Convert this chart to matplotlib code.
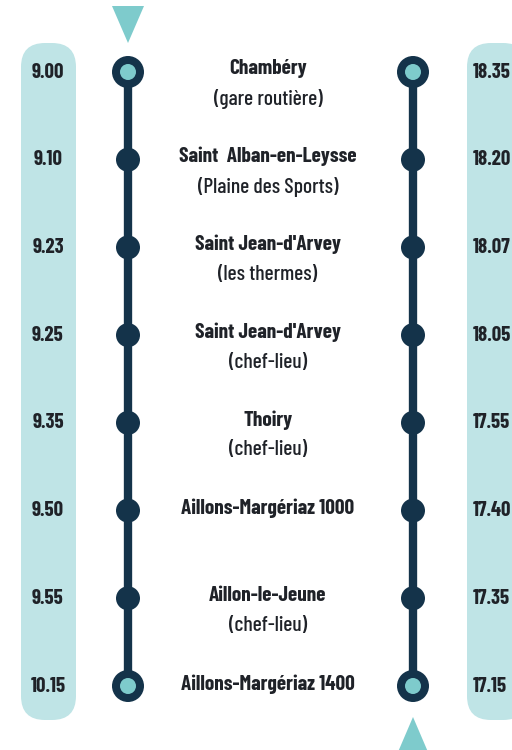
import numpy as np
import matplotlib.pyplot as plt
from matplotlib.patches import FancyBboxPatch, Polygon, Circle

# ── Données ─────────────────────────────────────────────
stations = [
    "Chambéry",
    "Saint  Alban-en-Leysse",
    "Saint Jean-d'Arvey",
    "Saint Jean-d'Arvey",
    "Thoiry",
    "Aillons-Margériaz 1000",
    "Aillon-le-Jeune",
    "Aillons-Margériaz 1400",
]
details = [
    "(gare routière)",
    "(Plaine des Sports)",
    "(les thermes)",
    "(chef-lieu)",
    "(chef-lieu)",
    "",
    "(chef-lieu)",
    "",
]
aller = ["9.00", "9.10", "9.23", "9.25", "9.35", "9.50", "9.55", "10.15"]
retour = ["18.35", "18.20", "18.07", "18.05", "17.55", "17.40", "17.35", "17.15"]

# ── Style ───────────────────────────────────────────────
NAVY = "#14334a"
TEAL = "#7ecbcc"
PILL = "#bfe4e6"
TXT = "#1f2228"
FONT = ["Barlow Condensed", "DejaVu Sans"]

fig = plt.figure(figsize=(5.12, 7.5), dpi=100)
ax = fig.add_axes([0, 0, 1, 1])
ax.set_xlim(0, 512)
ax.set_ylim(750, 0)
ax.axis("off")

n = len(stations)
ys = np.linspace(72, 686, n)

# colonnes horaires
for x0, w in [(21, 55), (467, 60)]:
    ax.add_patch(FancyBboxPatch((x0, 43), w, 677, boxstyle="round,pad=0,rounding_size=24",
                                fc=PILL, ec="none", zorder=1))

# lignes + arrêts
for lx in [128, 413]:
    ax.plot([lx, lx], [ys[0], ys[-1]], color=NAVY, lw=6, solid_capstyle="butt", zorder=2)
    for i, y in enumerate(ys):
        if i in (0, n - 1):
            ax.add_patch(Circle((lx, y), 16, fc=NAVY, ec="none", zorder=3))
            ax.add_patch(Circle((lx, y), 8, fc=TEAL, ec="none", zorder=4))
        else:
            ax.add_patch(Circle((lx, y), 12, fc=NAVY, ec="none", zorder=3))

# flèches de sens
ax.add_patch(Polygon([[112, 6], [144, 6], [128, 43]], closed=True, fc=TEAL, ec="none"))
ax.add_patch(Polygon([[398, 752], [428, 752], [413, 717]], closed=True, fc=TEAL, ec="none"))

# textes
for i, y in enumerate(ys):
    ax.text(48, y, aller[i], ha="center", va="center", fontsize=15, fontweight="bold",
            family=FONT, color=TXT)
    ax.text(473, y, retour[i], ha="left", va="center", fontsize=15, fontweight="bold",
            family=FONT, color=TXT)
    if details[i]:
        ax.text(268, y - 3, stations[i], ha="center", va="center", fontsize=15.3,
                fontweight="bold", family=FONT, color=TXT)
        ax.text(268, y + 27, details[i], ha="center", va="center", fontsize=15.5,
                fontweight=500, family=FONT, color=TXT)
    else:
        ax.text(268, y - 2, stations[i], ha="center", va="center", fontsize=15.3,
                fontweight="bold", family=FONT, color=TXT)

fig.savefig("out.png", dpi=100)
